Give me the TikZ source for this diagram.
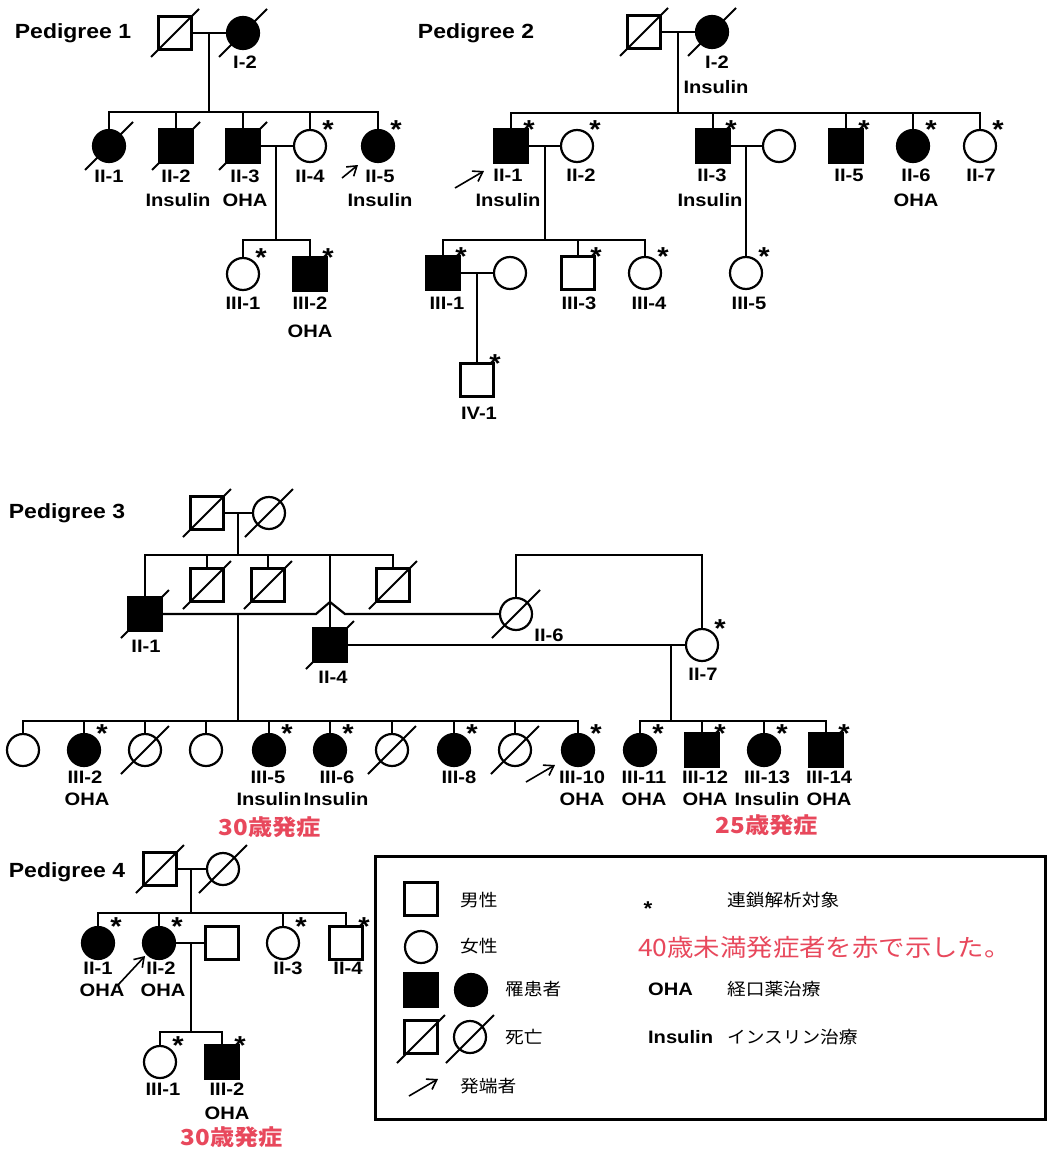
\documentclass[tikz,border=0pt]{standalone}
\usepackage{fontspec}
\setmainfont{Liberation Sans}[FakeStretch=1.12]
\newfontfamily\jpfont{Noto Sans CJK JP}[FakeStretch=1.1]
\usetikzlibrary{arrows.meta, calc}
\definecolor{onsetred}{RGB}{232,72,92}
\newcommand{\lblfont}{\fontsize{18}{20}\selectfont\bfseries}
\newcommand{\ttlfont}{\fontsize{20.5}{22}\selectfont\bfseries}
\newcommand{\keyfont}{\jpfont\fontsize{17}{19}\selectfont}
\newcommand{\onsetfont}{\jpfont\bfseries\fontsize{22}{24}\selectfont}

\begin{document}
\begin{tikzpicture}[
    x=1pt, y=-1pt, line width=2.2pt,
    male/.style={draw, rectangle, minimum size=33pt, inner sep=0pt, fill=white},
    maleaff/.style={male, fill=black},
    female/.style={draw, circle, minimum size=32pt, inner sep=0pt, fill=white},
    femaleaff/.style={female, fill=black},
    lbl/.style={font=\lblfont, inner sep=0pt},
    ttl/.style={font=\ttlfont, inner sep=0pt},
    ast/.style={font=\fontsize{26}{26}\selectfont\bfseries, inner sep=0pt},
    proband/.style={-{Straight Barb[length=9pt, width=12pt]}, line width=1.6pt},
    key/.style={font=\keyfont, inner sep=0pt, anchor=west},
    onset/.style={font=\onsetfont, text=onsetred, inner sep=0pt}
]
    \path[use as bounding box, fill=white] (0,0) rectangle (1050,1153);

    % Pedigree 1
    \node[ttl] (ttl1) at (73,33) {Pedigree 1};
    \foreach \n/\x/\y/\s in {aI1/175/33/male, aI2/243/33/femaleaff,
        aII1/109/146/femaleaff, aII2/176/146/maleaff, aII3/243/146/maleaff,
        aII4/310/146/female, aII5/378/146/femaleaff,
        aIII1/243/274/female, aIII2/310/274/maleaff}
        \node[\s] (\n) at (\x,\y) {};

    \coordinate (am1) at (209,33);
    \coordinate (as1) at (209,112);
    \draw (aI1) -- (aI2);
    \draw (am1) -- (as1);
    \draw (aII1.north) |- (as1) -| (aII5.north);
    \foreach \n in {aII2,aII3,aII4} \draw (\n.north) -- (\n.north |- as1);
    \coordinate (am2) at (276,146);
    \coordinate (as2) at (276,240);
    \draw (aII3) -- (aII4);
    \draw (am2) -- (as2);
    \draw (aIII1.north) |- (as2) -| (aIII2.north);

    % Pedigree 2
    \node[ttl] (ttl2) at (476,33) {Pedigree 2};
    \foreach \n/\x/\y/\s in {bI1/644/32/male, bI2/712/32/femaleaff,
        bII1/511/146/maleaff, bII2/577/146/female, bII3/713/146/maleaff,
        bII3s/779/146/female, bII5/846/146/maleaff, bII6/913/146/femaleaff,
        bII7/980/146/female,
        bIII1/443/273/maleaff, bIII1s/510/273/female, bIII3/578/273/male,
        bIII4/645/273/female, bIII5/746/273/female,
        bIV1/477/380/male}
        \node[\s] (\n) at (\x,\y) {};

    \coordinate (bm1) at (678,32);
    \coordinate (bs1) at (678,113);
    \draw (bI1) -- (bI2);
    \draw (bm1) -- (bs1);
    \draw (bII1.north) |- (bs1) -| (bII7.north);
    \foreach \n in {bII3,bII5,bII6} \draw (\n.north) -- (\n.north |- bs1);
    \coordinate (bm2) at (545,146);
    \coordinate (bs2) at (545,240);
    \draw (bII1) -- (bII2);
    \draw (bm2) -- (bs2);
    \draw (bIII1.north) |- (bs2) -| (bIII4.north);
    \draw (bIII3.north) -- (bIII3.north |- bs2);
    \coordinate (bm3) at (746,146);
    \draw (bII3) -- (bII3s);
    \draw (bm3) -- (bIII5.north);
    \coordinate (bm4) at (477,273);
    \draw (bIII1) -- (bIII1s);
    \draw (bm4) -- (bIV1.north);

    % Pedigree 3
    \node[ttl] (ttl3) at (67,513) {Pedigree 3};
    \foreach \n/\x/\y/\s in {cI1/207/513/male, cI2/269/513/female,
        cII1/145/614/maleaff, cII2/207/585/male, cII3/268/585/male,
        cII4/330/645/maleaff, cII5/393/585/male, cII6/516/614/female,
        cII7/702/645/female,
        cIII1/23/750/female, cIII2/84/750/femaleaff, cIII3/145/750/female,
        cIII4/206/750/female, cIII5/269/750/femaleaff, cIII6/330/750/femaleaff,
        cIII7/392/750/female, cIII8/454/750/femaleaff, cIII9/515/750/female,
        cIII10/578/750/femaleaff,
        cIII11/640/750/femaleaff, cIII12/702/750/maleaff,
        cIII13/764/750/femaleaff, cIII14/826/750/maleaff}
        \node[\s] (\n) at (\x,\y) {};

    \coordinate (cm1) at (238,513);
    \coordinate (cs1) at (238,555);
    \draw (cI1) -- (cI2);
    \draw (cm1) -- (cs1);
    \draw (cII1.north) |- (cs1) -| (cII5.north);
    \foreach \n in {cII2,cII3,cII4} \draw (\n.north) -- (\n.north |- cs1);
    % marriage line jumps over II-4
    \coordinate (ch1) at (316,614);
    \coordinate (ch2) at (330,602);
    \coordinate (ch3) at (345,614);
    \draw (cII1) -- (ch1) -- (ch2) -- (ch3) -- (cII6);
    \coordinate (cloop) at (610,555);
    \draw (cII6.north) |- (cloop) -| (cII7.north);
    \draw (cII4) -- (cII7);
    \coordinate (cm2) at (238,614);
    \coordinate (cs2) at (238,721);
    \coordinate (cm3) at (671,645);
    \coordinate (cs3) at (671,721);
    \draw (cm2) -- (cs2);
    \draw (cm3) -- (cs3);
    \draw (cIII1.north) |- (cs2) -| (cIII10.north);
    \foreach \n in {cIII2,cIII3,cIII4,cIII5,cIII6,cIII7,cIII8,cIII9}
        \draw (\n.north) -- (\n.north |- cs2);
    \draw (cIII11.north) |- (cs3) -| (cIII14.north);
    \foreach \n in {cIII12,cIII13} \draw (\n.north) -- (\n.north |- cs3);

    % Pedigree 4
    \node[ttl] (ttl4) at (67,872) {Pedigree 4};
    \foreach \n/\x/\y/\s in {dI1/160/869/male, dI2/223/869/female,
        dII1/98/943/femaleaff, dII2/159/943/femaleaff, dII2s/222/943/male,
        dII3/283/943/female, dII4/346/943/male,
        dIII1/160/1062/female, dIII2/222/1062/maleaff}
        \node[\s] (\n) at (\x,\y) {};

    \coordinate (dm1) at (191,869);
    \coordinate (ds1) at (191,913);
    \draw (dI1) -- (dI2);
    \draw (dm1) -- (ds1);
    \draw (dII1.north) |- (ds1) -| (dII4.north);
    \foreach \n in {dII2,dII3} \draw (\n.north) -- (\n.north |- ds1);
    \coordinate (dm2) at (191,943);
    \coordinate (ds2) at (191,1032);
    \draw (dII2) -- (dII2s);
    \draw (dm2) -- (ds2);
    \draw (dIII1.north) |- (ds2) -| (dIII2.north);

    % Deceased
    \foreach \n in {aI1,aI2,aII1,aII2,aII3,bI1,bI2,cI1,cI2,cII1,cII2,cII3,
        cII4,cII5,cII6,cIII3,cIII7,cIII9,dI1,dI2}
        \draw[line width=1.8pt] (\n.center) +(-24,24) -- +(24,-24);

    % Linkage analysis
    \foreach \n in {aII4,aII5,aIII1,aIII2,bII1,bII2,bII3,bII5,bII6,bII7,
        bIII1,bIII3,bIII4,bIII5,bIV1,cII7,cIII2,cIII5,cIII6,cIII8,cIII10,
        cIII11,cIII12,cIII13,cIII14,dII1,dII2,dII3,dII4,dIII1,dIII2}
        \node[ast] (s\n) at ([shift={(18,-16)}]\n.center) {*};

    % Probands
    \coordinate (apt) at (342,178);  \coordinate (aph) at (358,165);
    \coordinate (bpt) at (455,188);  \coordinate (bph) at (484,171);
    \coordinate (cpt) at (526,782);  \coordinate (cph) at (555,765);
    \coordinate (dpt) at (118,985);  \coordinate (dph) at (145,956);
    \draw[proband] (apt) -- (aph);
    \draw[proband] (bpt) -- (bph);
    \draw[proband] (cpt) -- (cph);
    \draw[proband] (dpt) -- (dph);

    % Labels
    \foreach \n/\x/\y/\t in {aI2/245/62/I-2, aII1/109/176/II-1, aII2/176/176/II-2,
        aII3/245/176/II-3, aII4/310/176/II-4, aII5/380/176/II-5,
        aIII1/243/303/III-1, aIII2/310/303/III-2,
        bI2/717/62/I-2, bII1/508/175/II-1, bII2/581/175/II-2, bII3/712/175/II-3,
        bII5/849/175/II-5, bII6/916/175/II-6, bII7/981/175/II-7,
        bIII1/447/303/III-1, bIII3/579/303/III-3, bIII4/649/303/III-4,
        bIII5/749/303/III-5, bIV1/479/413/IV-1,
        cII1/146/646/II-1, cII4/333/677/II-4, cII6/549/635/II-6, cII7/703/674/II-7,
        cIII2/85/777/III-2, cIII5/268/777/III-5, cIII6/337/777/III-6,
        cIII8/459/777/III-8, cIII10/582/777/III-10, cIII11/644/777/III-11,
        cIII12/705/777/III-12, cIII13/767/777/III-13, cIII14/829/777/III-14,
        dII1/98/968/II-1, dII2/161/968/II-2, dII3/288/968/II-3, dII4/348/968/II-4,
        dIII1/163/1089/III-1, dIII2/227/1089/III-2}
        \node[lbl] (t\n) at (\x,\y) {\t};

    % Treatment
    \foreach \n/\x/\y/\t in {aII2/178/200/Insulin, aII3/245/200/OHA,
        aII5/380/200/Insulin, aIII2/310/331/OHA,
        bI2/716/87/Insulin, bII1/508/200/Insulin, bII3/710/200/Insulin,
        bII6/916/200/OHA,
        cIII2/87/799/OHA, cIII5/269/799/Insulin, cIII6/336/799/Insulin,
        cIII10/582/799/OHA, cIII11/644/799/OHA, cIII12/705/799/OHA,
        cIII13/767/799/Insulin, cIII14/829/799/OHA,
        dII1/102/990/OHA, dII2/163/990/OHA, dIII2/227/1113/OHA}
        \node[lbl] (u\n) at (\x,\y) {\t};

    % Onset before 40
    \node[onset] (onc1) at (270,827) {30歳発症};
    \node[onset] (onc2) at (767,825) {25歳発症};
    \node[onset] (ond1) at (232,1137) {30歳発症};

    % Legend
    \node[draw, line width=3pt, minimum width=670pt, minimum height=263pt,
        inner sep=0pt] (legend) at (710,987.5) {};
    \node[male] (eM) at (421,899) {};
    \node[female] (eF) at (421,947) {};
    \node[maleaff] (eA1) at (421,990) {};
    \node[femaleaff] (eA2) at (471,990) {};
    \node[male] (eD1) at (421,1037) {};
    \node[female] (eD2) at (470,1037) {};
    \foreach \n in {eD1,eD2} \draw[line width=1.8pt] (\n.center) +(-24,26) -- +(24,-22);
    \coordinate (ept) at (409,1096);
    \coordinate (eph) at (438,1079);
    \draw[proband] (ept) -- (eph);

    \node[key] (k1) at (459,900) {男性};
    \node[key] (k2) at (459,946) {女性};
    \node[key] (k3) at (504,989) {罹患者};
    \node[key] (k4) at (504,1037) {死亡};
    \node[key] (k5) at (459,1086) {発端者};
    \node[ast, font=\fontsize{20}{20}\selectfont\bfseries] (k6) at (648,909) {*};
    \node[key] (k7) at (726,900) {連鎖解析対象};
    \node[key, font=\jpfont\fontsize{24}{26}\selectfont, text=onsetred] (k8) at (637,947)
        {40歳未満発症者を赤で示した。};
    \node[lbl, anchor=west] (k9) at (647,989) {OHA};
    \node[key] (k10) at (726,989) {経口薬治療};
    \node[lbl, anchor=west] (k11) at (647,1037) {Insulin};
    \node[key] (k12) at (726,1037) {インスリン治療};
\end{tikzpicture}
\end{document}
